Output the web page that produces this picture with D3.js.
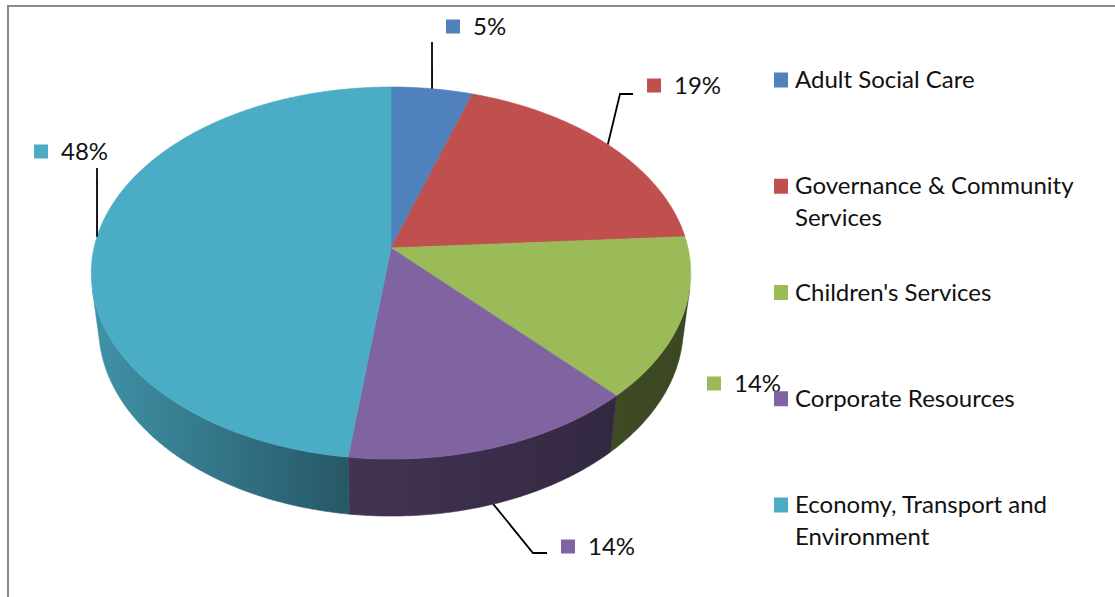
<!DOCTYPE html>
<html>
<head>
<meta charset="utf-8">
<script src="https://cdn.jsdelivr.net/npm/d3@7"></script>
<style>
  html, body { margin: 0; padding: 0; background: #fff; }
  svg { display: block; }
  text { font-family: Lato, "Noto Sans", sans-serif; fill: #111; }
</style>
</head>
<body>
<svg id="chart" width="1115" height="597"></svg>
<script>
// Budget split by department (percent of total)
const categories = [
  "Adult Social Care",
  "Governance & Community Services",
  "Children's Services",
  "Corporate Resources",
  "Economy, Transport and Environment"
];
const legendLines = [
  ["Adult Social Care"],
  ["Governance & Community", "Services"],
  ["Children's Services"],
  ["Corporate Resources"],
  ["Economy, Transport and", "Environment"]
];
const shares = [5, 19, 14, 14, 48];
const colors = ["#4F81BD", "#C0504D", "#9BBB59", "#8064A2", "#4BACC6"];
const valueLabels = shares.map(v => v + "%");

// ---- 3D view of the pie (unit radius disc, perspective camera) ----
const view = {
  cx: 391, cy: 248,      // screen position of the disc centre
  focal: 1742,           // focal length in px
  dist: 5.865,           // camera distance in disc radii
  tilt: Math.asin(0.615),
  thickness: 0.2395      // disc height in radii
};
const sT = Math.sin(view.tilt), cT = Math.cos(view.tilt);

function project(theta, r, z) {
  const x = r * Math.sin(theta), y = r * Math.cos(theta);
  const up = y * sT + z * cT;
  const d = view.dist + y * cT - z * sT;
  return [view.cx + view.focal * x / d, view.cy - view.focal * up / d];
}

const svg = d3.select("#chart");

// chart frame
svg.append("rect")
  .attr("x", 8).attr("y", 6)
  .attr("width", 1200).attr("height", 700)
  .attr("fill", "none").attr("stroke", "#8a8a8a").attr("stroke-width", 2);

const pie = d3.pie().sort(null).value(d => d)
  .startAngle(0).endAngle(2 * Math.PI);
const arcs = pie(shares);

const line = d3.line();
const STEP = Math.PI / 360;

function sampleAngles(a0, a1) {
  const n = Math.max(2, Math.ceil((a1 - a0) / STEP));
  return d3.range(n + 1).map(i => a0 + (a1 - a0) * i / n);
}

// walls facing the camera
const visCos = -1 / (view.dist * cT);
const visLo = Math.acos(visCos), visHi = 2 * Math.PI - visLo;

// side shading, lighter on the left and darker to the right
const defs = svg.append("defs");
const leftX = project(1.5 * Math.PI, 1, 0)[0] - 2;
const rightX = project(0.5 * Math.PI, 1, 0)[0] + 2;
const shadeStops = [[0, 0.85], [0.42, 0.52], [0.87, 0.4], [1, 0.38]];
colors.forEach((c, i) => {
  const g = defs.append("linearGradient")
    .attr("id", "wall" + i)
    .attr("gradientUnits", "userSpaceOnUse")
    .attr("x1", leftX).attr("x2", rightX).attr("y1", 0).attr("y2", 0);
  const base = d3.rgb(c);
  shadeStops.forEach(([o, k]) => {
    g.append("stop").attr("offset", o)
      .attr("stop-color", d3.rgb(base.r * k, base.g * k, base.b * k).formatHex());
  });
});

const wallG = svg.append("g");
arcs.forEach((a, i) => {
  const lo = Math.max(a.startAngle, visLo), hi = Math.min(a.endAngle, visHi);
  if (hi <= lo) return;
  const angs = sampleAngles(lo, hi);
  const top = angs.map(t => project(t, 1, 0));
  const bottom = angs.slice().reverse().map(t => project(t, 1, -view.thickness));
  wallG.append("path")
    .attr("d", line(top.concat(bottom)) + "Z")
    .attr("fill", `url(#wall${i})`)
    .attr("stroke", `url(#wall${i})`).attr("stroke-width", 0.6);
});

const topG = svg.append("g");
arcs.forEach((a, i) => {
  const pts = [project(0, 0, 0)].concat(sampleAngles(a.startAngle, a.endAngle).map(t => project(t, 1, 0)));
  topG.append("path")
    .attr("d", line(pts) + "Z")
    .attr("fill", colors[i])
    .attr("stroke", colors[i]).attr("stroke-width", 0.6);
});

// ---- data labels with leader lines ----
const labelLayout = [
  { x: 446, base: 35,  leader: [[432, 42]], rim: 0 },
  { x: 647, base: 94,  leader: [[633, 94], [620, 94]], rim: 0 },
  { x: 707, base: 392, leader: null, rim: 0 },
  { x: 561, base: 555, leader: [[547, 553], [533, 553]], rim: -view.thickness },
  { x: 34,  base: 160, leader: [[97, 168]], rim: 0 }
];

const labelG = svg.append("g");
arcs.forEach((a, i) => {
  const L = labelLayout[i];
  if (L.leader) {
    const mid = (a.startAngle + a.endAngle) / 2;
    const anchor = project(mid, 1, L.rim);
    labelG.append("path")
      .attr("d", line(L.leader.concat([anchor])))
      .attr("fill", "none").attr("stroke", "#000").attr("stroke-width", 1.8);
  }
  labelG.append("rect")
    .attr("x", L.x).attr("y", L.base - 15.5)
    .attr("width", 14).attr("height", 14)
    .attr("fill", colors[i]);
  labelG.append("text")
    .attr("x", L.x + 27).attr("y", L.base)
    .attr("font-size", 24)
    .text(valueLabels[i]);
});

// ---- legend ----
const legendG = svg.append("g");
const legendY = d3.scaleLinear().domain([0, categories.length - 1]).range([88, 513]);
categories.forEach((name, i) => {
  const y = legendY(i);
  legendG.append("rect")
    .attr("x", 774).attr("y", y - 15.5)
    .attr("width", 14).attr("height", 15)
    .attr("fill", colors[i]);
  const t = legendG.append("text").attr("x", 795).attr("y", y).attr("font-size", 24);
  legendLines[i].forEach((ln, j) => {
    t.append("tspan").attr("x", 795).attr("dy", j === 0 ? 0 : 31.5).text(ln);
  });
});
</script>
</body>
</html>
